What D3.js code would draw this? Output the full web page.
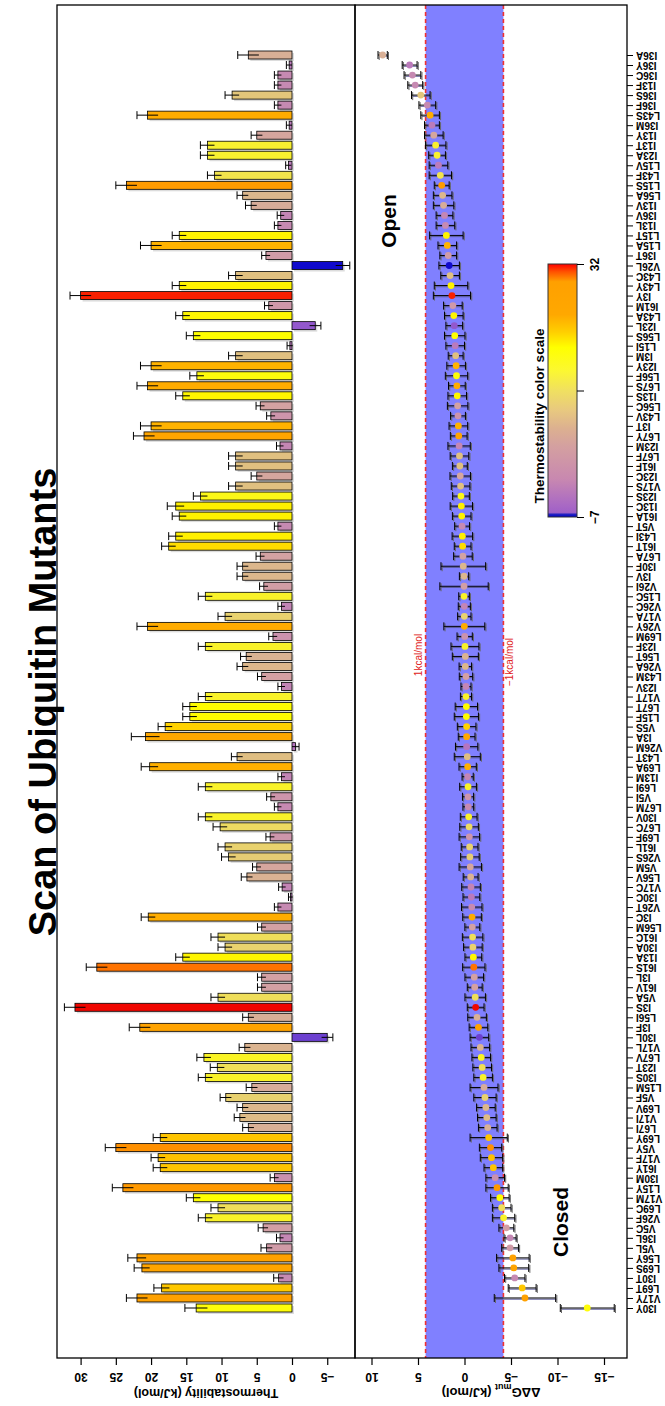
<!DOCTYPE html>
<html><head><meta charset="utf-8">
<script src="https://cdn.jsdelivr.net/npm/d3@7/dist/d3.min.js"></script>
<style>
body{margin:0;background:#fff}
svg{display:block}
text{font-family:"Liberation Sans",Arial,Helvetica,sans-serif;font-weight:bold;fill:#000}
</style></head>
<body><svg id="chart" width="665" height="1406"></svg>
<script>
// categories, bottom (first) to top (last)
const mutants = ["I30Y","V17Y","L69T","I30T","L69S","L56Y","V5L","I36L","V5C","V26F","L69C","V17M","L15Y","I30M","I61Y","V17F","V5Y","L69Y","L67I","V17I","L69V","V5F","L15M","I30S","I23T","L67V","V17L","I30L","I3F","L56I","I3S","V5A","I61V","I3L","I61S","I13A","I30A","I61C","L56M","I3C","V26T","I30C","V17C","L56V","V5M","V26S","I61L","L69F","L67C","I30V","L67M","V5I","L69I","I13M","L69A","L43T","V26M","I3A","V5S","L15F","L67T","V17T","I23V","L43M","V26A","L56T","I23F","L69M","V26Y","V17A","V26C","L15C","V26I","I3V","I30F","L67A","I61T","L43I","V5T","I61A","I13C","I23S","V17S","I23C","I61F","L67F","I23M","L67Y","I3T","L43V","L56C","I13S","L67S","L56F","I23Y","I3M","L15I","L56S","I23L","L43A","I61M","I3Y","L43Y","L43C","V26L","I36T","L15A","L15T","I13L","I36V","I13V","L56A","L15S","L43F","L15V","I23A","I13T","I13Y","I36M","L43S","I36F","I36S","I13F","I36C","I36Y","I36A"];

// thermostability (kJ/mol)
const thermo = [
  13.6,22.0,18.5,1.9,21.3,22.0,3.6,1.7,4.1,12.3,
  10.5,14,24,2.5,18.7,19,25,18.7,6.2,7.4,
  7,9.4,5.7,12.3,10.6,12.5,6.7,-5,21.6,6.2,
  30.8,10.5,4.3,4.3,27.7,15.5,9.5,10.5,4.3,20.4,
  2.0,0.2,1.4,6.4,5,9,9.5,3.1,10.2,12.3,
  2.0,3.0,12.3,1.5,20.2,7.8,-0.5,20.8,18,14.5,
  14.5,12.3,1.5,4.3,7,6.5,12.3,2.7,20.5,9.5,
  1.5,12.3,4,7,7,4.5,17.5,16.5,2,16,
  16.5,13,8,5,8,8,1.7,21,20,3,
  4.5,15.5,20.5,13.5,20,8,0.3,14,-3.3,15.5,
  3.3,30,16,8,-7.2,3.7,20,16,2,1.6,
  5.8,7,23.5,11,0.5,12,12,5,0.4,20.5,
  2,8.5,2,2,0.4,6.2];
const thermoErr = [
  1.6,1.5,1.1,0.7,1.1,1.3,0.8,0.5,0.7,1,
  1,1,1.5,0.6,1,1,1.5,1,0.8,0.8,
  0.8,0.8,0.8,1,1,1,0.8,0.8,1.5,0.8,
  1.5,1,0.6,0.6,1.5,1,1,1,0.6,1,
  0.5,0.3,0.5,0.8,0.6,1,1,0.6,1,1,
  0.5,0.6,1,0.5,1.2,0.8,0.5,2,1,1,
  1,1,0.5,0.6,0.8,0.8,1,0.6,1.5,1,
  0.5,1,0.6,0.8,0.8,0.6,1,1,0.5,1,
  1.2,1,1,0.8,1,1,0.5,1.5,1.5,0.6,
  0.6,1,1.5,1,1.5,1,0.4,1,0.8,1,
  0.6,1.5,1,1,1,0.6,1.5,1,0.5,0.5,
  0.8,0.8,1.5,1,0.4,1,1,0.8,0.4,1.5,
  0.5,1,0.5,0.5,0.4,1.5];

// ddG_mut (kJ/mol)
const ddg = [
  -13.2,-6.5,-6.2,-5.4,-5.3,-5.2,-4.9,-4.9,-4.5,-4.2,
  -4.0,-3.8,-3.5,-3.3,-3.1,-2.9,-2.8,-2.6,-2.5,-2.4,
  -2.3,-2.2,-2.1,-2.0,-1.9,-1.8,-1.7,-1.6,-1.5,-1.35,
  -1.2,-1.15,-1.1,-1.05,-1.0,-0.95,-0.9,-0.87,-0.84,-0.81,
  -0.78,-0.74,-0.7,-0.66,-0.62,-0.58,-0.55,-0.52,-0.49,-0.45,
  -0.41,-0.38,-0.38,-0.34,-0.34,-0.30,-0.23,-0.23,-0.23,-0.2,
  -0.2,-0.16,-0.16,-0.16,-0.09,-0.09,-0.05,-0.02,0.02,0.02,
  0.02,0.05,0.05,0.05,0.13,0.17,0.2,0.23,0.26,0.3,
  0.34,0.38,0.42,0.46,0.5,0.54,0.58,0.62,0.66,0.7,
  0.74,0.78,0.82,0.86,0.9,0.95,1.0,1.05,1.1,1.15,
  1.25,1.35,1.45,1.55,1.65,1.75,1.85,1.95,2.05,2.15,
  2.25,2.35,2.45,2.6,2.8,2.95,3.1,3.3,3.5,3.7,
  4.0,4.7,5.3,5.6,5.9,8.8];
const ddgErr = [
  2.9,3.3,1.5,1.1,1.6,1.75,0.9,0.65,0.8,1.2,
  1,1,1.2,1,1,1.2,1.2,2,1,1,
  1,1.2,1.5,1,1,1,1,1,1,1,
  0.9,1.1,0.8,1,1.2,0.9,1,1.1,0.8,1,
  1.1,0.9,1,0.8,1.2,1,0.9,1.1,1,0.9,
  0.58,0.6,0.9,0.6,0.93,1.4,1.2,0.9,1.0,1.3,
  1.2,0.6,0.54,0.72,0.67,1.4,1.5,0.82,2.2,0.72,
  0.65,0.57,2.6,0.5,2.4,1,0.9,1.1,0.8,1,
  1.2,0.9,1,1.1,0.8,1,1.2,0.9,1,0.8,
  1.1,1,0.9,1.2,1,0.8,1,1.1,0.9,1,
  1,2,1.8,1,1.1,0.9,1,1.8,1,0.9,
  1.1,1,0.8,1.2,1,0.9,1.1,1,0.8,1,
  0.9,1,0.8,0.9,0.8,0.5];

const thermoTicks = [30,25,20,15,10,5,0,-5];
const ddgTicks = [10,5,0,-5,-10,-15];
const legendTicks = [32, 12.5, -7];
const legendLabels = ["32", "", "\u22127"];
const kcal = 4.184;

// color scale for thermostability
const colorStops = [-7.5,-6,-4,-2,1,3.5,6,8,10,12,14,16.5,18.5,21,24,27.5,29.5,31];
const colorRange = ["#0000cc","#5030d0","#8850d0","#a868c8","#c080b8","#d09aa8","#d8ae98","#e0c080","#ecd868","#f8f030","#ffff00","#fff000","#ffc800","#ffa500","#ff9900","#ff7a00","#ff3000","#ee0000"];
const color = d3.scaleLinear().domain(colorStops).range(colorRange).clamp(true);

const svg = d3.select("#chart");
const L = {x0:57, x1:355, y0:5, y1:1358};
const R = {x0:355, x1:627, y0:5, y1:1358};

const y = d3.scalePoint().domain(mutants).range([1308, 55]);
const xT = d3.scaleLinear().domain([0, 30]).range([292, 80.6]);
const xG = d3.scaleLinear().domain([0, 10]).range([464.5, 371.5]);

const rows = mutants.map((m,i)=>({m, t:thermo[i], te:thermoErr[i], g:ddg[i], ge:ddgErr[i]}));

// ---- right panel background band
svg.append("rect").attr("x", xG(kcal)).attr("y", R.y0).attr("width", xG(-kcal)-xG(kcal)).attr("height", R.y1-R.y0).attr("fill","#8080ff");
[kcal,-kcal].forEach(v=>{
  svg.append("line").attr("x1",xG(v)).attr("x2",xG(v)).attr("y1",R.y0).attr("y2",R.y1)
    .attr("stroke","#f03030").attr("stroke-width",1.6).attr("stroke-dasharray","4,3");
});
svg.append("text").attr("transform",`translate(${xG(kcal)-4},655) rotate(-90)`).attr("text-anchor","middle")
  .style("font-weight","normal").style("font-size","10px").style("fill","#e02020").text("1kcal/mol");
svg.append("text").attr("transform",`translate(${xG(-kcal)+10},662) rotate(-90)`).attr("text-anchor","middle")
  .style("font-weight","normal").style("font-size","10px").style("fill","#e02020").text("\u22121kcal/mol");

// ---- bars (left panel)
const bh = 8;
const gb = svg.append("g");
gb.selectAll("rect.sh").data(rows).join("rect").attr("class","sh")
  .attr("x", d=>Math.min(xT(d.t), xT(0))+2).attr("y", d=>y(d.m)-bh/2+2)
  .attr("width", d=>Math.abs(xT(d.t)-xT(0))).attr("height", bh).attr("fill","#dcdcdc");
gb.selectAll("rect.bar").data(rows).join("rect").attr("class","bar")
  .attr("x", d=>Math.min(xT(d.t), xT(0))).attr("y", d=>y(d.m)-bh/2)
  .attr("width", d=>Math.abs(xT(d.t)-xT(0))).attr("height", bh)
  .attr("fill", d=>color(d.t)).attr("stroke","#000").attr("stroke-width",0.8);
gb.selectAll("line.err").data(rows).join("line").attr("class","err")
  .attr("x1", d=>xT(d.t-d.te)).attr("x2", d=>xT(d.t+d.te)).attr("y1", d=>y(d.m)).attr("y2", d=>y(d.m))
  .attr("stroke","#000").attr("stroke-width",1);
gb.selectAll("line.cap").data(rows).join("line").attr("class","cap")
  .attr("x1", d=>xT(d.t + (d.t>=0?d.te:-d.te))).attr("x2", d=>xT(d.t + (d.t>=0?d.te:-d.te)))
  .attr("y1", d=>y(d.m)-4).attr("y2", d=>y(d.m)+4).attr("stroke","#000").attr("stroke-width",1);

// ---- points (right panel)
const gp = svg.append("g");
// soft shadow of error bars
gp.selectAll("line.pshadow").data(rows).join("line").attr("class","pshadow")
  .attr("x1", d=>xG(d.g+d.ge)+1.2).attr("x2", d=>xG(d.g-d.ge)+1.2).attr("y1", d=>y(d.m)+1.2).attr("y2", d=>y(d.m)+1.2)
  .attr("stroke","#5a5a9a").attr("stroke-width",1);
[1,-1].forEach(s=>{
  gp.selectAll("line.pcs"+(s>0?"a":"b")).data(rows).join("line").attr("class","pcs"+(s>0?"a":"b"))
    .attr("x1", d=>xG(d.g+s*d.ge)+1.2).attr("x2", d=>xG(d.g+s*d.ge)+1.2)
    .attr("y1", d=>y(d.m)-3).attr("y2", d=>y(d.m)+5).attr("stroke","#666").attr("stroke-width",1);
});
gp.selectAll("line.perr").data(rows).join("line").attr("class","perr")
  .attr("x1", d=>xG(d.g+d.ge)).attr("x2", d=>xG(d.g-d.ge)).attr("y1", d=>y(d.m)).attr("y2", d=>y(d.m))
  .attr("stroke","#000").attr("stroke-width",1);
[1,-1].forEach(s=>{
  gp.selectAll("line.pcap"+(s>0?"a":"b")).data(rows).join("line").attr("class","pcap"+(s>0?"a":"b"))
    .attr("x1", d=>xG(d.g+s*d.ge)).attr("x2", d=>xG(d.g+s*d.ge))
    .attr("y1", d=>y(d.m)-4).attr("y2", d=>y(d.m)+4).attr("stroke","#000").attr("stroke-width",1);
});
gp.selectAll("circle").data(rows).join("circle")
  .attr("cx", d=>xG(d.g)).attr("cy", d=>y(d.m)).attr("r",3.4).attr("fill", d=>color(d.t));

// ---- frames
[L,R].forEach(p=>{
  svg.append("rect").attr("x",p.x0).attr("y",p.y0).attr("width",p.x1-p.x0).attr("height",p.y1-p.y0)
    .attr("fill","none").attr("stroke","#000").attr("stroke-width",1.3);
});

// ---- bottom axes
function bottomAxis(scale, ticks){
  const g = svg.append("g").attr("transform",`translate(0,${L.y1})`)
    .call(d3.axisBottom(scale).tickValues(ticks).tickSize(7).tickSizeOuter(0));
  g.select(".domain").remove();
  g.selectAll(".tick line").attr("stroke","#000").attr("stroke-width",1.2);
  g.selectAll(".tick text").attr("y",null).attr("dy","0.35em").attr("text-anchor","middle")
    .attr("transform","translate(0,19) rotate(180)").style("font-size","12px").style("font-family",null);
  return g;
}
bottomAxis(xT, thermoTicks);
bottomAxis(xG, ddgTicks);

svg.append("text").attr("transform",`translate(${(L.x0+L.x1)/2},1393) rotate(180)`).attr("text-anchor","middle")
  .attr("dy","0.35em").style("font-size","12.5px").text("Thermostability (kJ/mol)");
const gt = svg.append("text").attr("transform",`translate(${(R.x0+R.x1)/2},1393) rotate(180)`).attr("text-anchor","middle")
  .attr("dy","0.35em").style("font-size","13px");
gt.append("tspan").text("\u0394\u0394G");
gt.append("tspan").attr("dy","4").style("font-size","9px").text("mut");
gt.append("tspan").attr("dy","-4").text(" (kJ/mol)");

// ---- category axis (right)
const ga = svg.append("g").attr("transform",`translate(${R.x1},0)`)
  .call(d3.axisRight(y).tickSize(6).tickSizeOuter(0));
ga.select(".domain").remove();
ga.selectAll(".tick line").attr("stroke","#000").attr("stroke-width",1);
ga.selectAll(".tick text").attr("x",null).attr("dy","0.35em").attr("text-anchor","end")
  .attr("transform","translate(9,0) rotate(180)").style("font-size","10px").style("font-family",null);

// ---- title
svg.append("text").attr("transform","translate(56,702) rotate(-90)").attr("text-anchor","middle")
  .style("font-size","38px").text("Scan of Ubiquitin Mutants");

// ---- Open / Closed
svg.append("text").attr("transform","translate(396,221) rotate(-90)").attr("text-anchor","middle")
  .style("font-size","21px").text("Open");
svg.append("text").attr("transform","translate(568,1222) rotate(-90)").attr("text-anchor","middle")
  .style("font-size","21px").text("Closed");

// ---- legend
const lg = {x:548, y0:264, y1:517, w:29};
const ly = d3.scaleLinear().domain([32,-7]).range([lg.y0, lg.y1]);
const defs = svg.append("defs");
const grad = defs.append("linearGradient").attr("id","lgrad").attr("x1",0).attr("x2",0).attr("y1",0).attr("y2",1);
const gradStops = [[0,"#ff0000"],[0.03,"#ff5000"],[0.07,"#ffa000"],[0.2,"#ffa800"],[0.27,"#ffd000"],[0.33,"#ffff00"],[0.42,"#fcf830"],[0.5,"#f0e060"],[0.58,"#e8c880"],[0.65,"#dcb090"],[0.72,"#d4a0a0"],[0.85,"#c888b0"],[0.93,"#b070c0"],[0.982,"#a060c8"],[0.99,"#2020c0"],[1,"#0000cc"]];
grad.selectAll("stop").data(gradStops).join("stop").attr("offset",d=>d[0]).attr("stop-color",d=>d[1]);
svg.append("rect").attr("x",lg.x).attr("y",lg.y0).attr("width",lg.w).attr("height",lg.y1-lg.y0)
  .attr("fill","url(#lgrad)").attr("stroke","#333").attr("stroke-width",1);
const lax = svg.append("g").attr("transform",`translate(${lg.x+lg.w},0)`)
  .call(d3.axisRight(ly).tickValues(legendTicks).tickSize(7).tickFormat((d,i)=>legendLabels[i]));
lax.select(".domain").remove();
lax.selectAll(".tick text").attr("x",null).attr("dy","0.35em").attr("text-anchor","middle")
  .attr("transform","translate(18,0) rotate(-90)").style("font-size","12px").style("font-family",null);
svg.append("text").attr("transform",`translate(544,416) rotate(-90)`).attr("text-anchor","middle")
  .style("font-size","13.5px").text("Thermostability color scale");
</script>
</body></html>
